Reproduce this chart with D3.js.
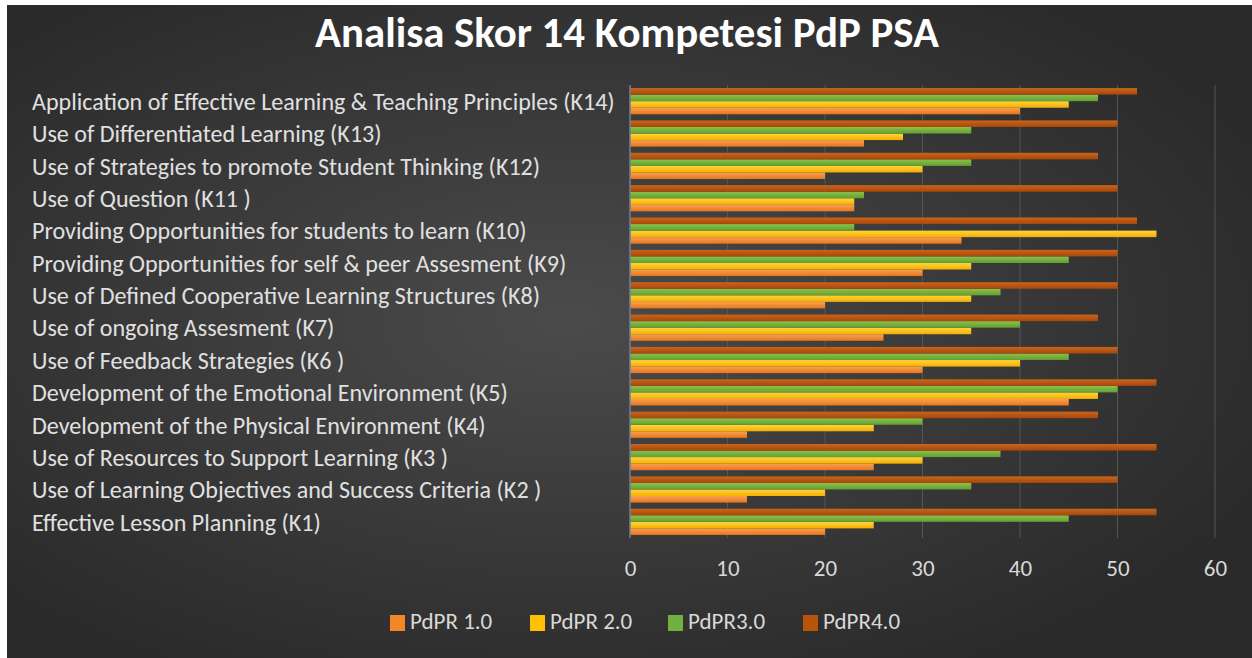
<!DOCTYPE html>
<html>
<head>
<meta charset="utf-8">
<script src="https://cdn.jsdelivr.net/npm/d3@7"></script>
<style>
  html, body { margin: 0; padding: 0; background: #ffffff; }
  svg { display: block; }
</style>
</head>
<body>
<svg id="chart" width="1252" height="658"></svg>
<script>
// Competency labels, top to bottom as drawn
const categories = [
  "Application of Effective Learning & Teaching Principles (K14)",
  "Use of Differentiated Learning (K13)",
  "Use of Strategies to promote Student Thinking (K12)",
  "Use of Question (K11 )",
  "Providing Opportunities for students to learn (K10)",
  "Providing Opportunities for self & peer Assesment (K9)",
  "Use of Defined Cooperative Learning Structures (K8)",
  "Use of ongoing Assesment (K7)",
  "Use of Feedback Strategies (K6 )",
  "Development of the Emotional Environment (K5)",
  "Development of the Physical Environment (K4)",
  "Use of Resources to Support Learning (K3 )",
  "Use of Learning Objectives and Success Criteria (K2 )",
  "Effective Lesson Planning (K1)"
];

// Scores per series, same order as categories (K14 ... K1)
const pdpr1 = [40, 24, 20, 23, 34, 30, 20, 26, 30, 45, 12, 25, 12, 20];
const pdpr2 = [45, 28, 30, 23, 54, 35, 35, 35, 40, 48, 25, 30, 20, 25];
const pdpr3 = [48, 35, 35, 24, 23, 45, 38, 40, 45, 50, 30, 38, 35, 45];
const pdpr4 = [52, 50, 48, 50, 52, 50, 50, 48, 50, 54, 48, 54, 50, 54];

const seriesNames = ["PdPR 1.0", "PdPR 2.0", "PdPR3.0", "PdPR4.0"];
const xTicks = [0, 10, 20, 30, 40, 50, 60];

const series = [
  { name: seriesNames[0], values: pdpr1, top: "#f9a052", bot: "#e8761c", sw: "#f4862a" },
  { name: seriesNames[1], values: pdpr2, top: "#ffd43a", bot: "#f5ae05", sw: "#ffc000" },
  { name: seriesNames[2], values: pdpr3, top: "#8cc04e", bot: "#63a02e", sw: "#72b043" },
  { name: seriesNames[3], values: pdpr4, top: "#c8651c", bot: "#a9470a", sw: "#b9540f" }
];

const svg = d3.select("#chart");
const W = 1252, H = 658;
const fontStack = "Carlito, 'Liberation Sans Narrow', 'Open Sans', 'DejaVu Sans Condensed', sans-serif";

const defs = svg.append("defs");
const bg = defs.append("radialGradient").attr("id", "bg")
  .attr("cx", "45%").attr("cy", "48%").attr("r", "62%");
bg.append("stop").attr("offset", "0%").attr("stop-color", "#4b4b4b");
bg.append("stop").attr("offset", "100%").attr("stop-color", "#2a2a2a");

series.forEach((s, i) => {
  const g = defs.append("linearGradient").attr("id", "g" + i)
    .attr("x1", 0).attr("y1", 0).attr("x2", 0).attr("y2", 1);
  g.append("stop").attr("offset", "0%").attr("stop-color", s.top);
  g.append("stop").attr("offset", "100%").attr("stop-color", s.bot);
});

// page background with a thin white margin on top and left
svg.append("rect").attr("x", 0).attr("y", 0).attr("width", W).attr("height", H).attr("fill", "#ffffff");
svg.append("rect").attr("x", 7).attr("y", 5).attr("width", W - 7).attr("height", H - 5).attr("fill", "url(#bg)");

const plot = { left: 630, right: 1215, top: 85, bottom: 538 };

const x = d3.scaleLinear().domain([0, 60]).range([plot.left, plot.right]);
const y = d3.scaleBand().domain(categories).range([plot.top, plot.bottom]).paddingInner(0.19).paddingOuter(0.095);
// series drawn from top: PdPR4.0, PdPR3.0, PdPR2.0, PdPR1.0
const ySub = d3.scaleBand().domain([3, 2, 1, 0]).range([0, y.bandwidth()]);

// vertical gridlines
svg.append("g")
  .selectAll("line")
  .data(xTicks.filter(t => t > 0))
  .join("line")
  .attr("x1", d => x(d)).attr("x2", d => x(d))
  .attr("y1", plot.top).attr("y2", plot.bottom)
  .attr("stroke", "#555555").attr("stroke-width", 1);

// bars
const rows = svg.append("g")
  .selectAll("g")
  .data(categories)
  .join("g")
  .attr("transform", d => `translate(0,${y(d)})`);

series.forEach((s, si) => {
  rows.append("rect")
    .attr("x", x(0))
    .attr("y", ySub(si))
    .attr("width", (d, i) => x(s.values[i]) - x(0))
    .attr("height", ySub.bandwidth())
    .attr("fill", `url(#g${si})`);
});

// value axis line
svg.append("line")
  .attr("x1", x(0)).attr("x2", x(0))
  .attr("y1", plot.top).attr("y2", plot.bottom)
  .attr("stroke", "#6f7ea0").attr("stroke-width", 1.5);

// x axis tick labels
const xAxis = d3.axisBottom(x).tickValues(xTicks).tickSize(0).tickPadding(0);
const xg = svg.append("g").attr("transform", `translate(0,${plot.bottom})`).call(xAxis);
xg.select(".domain").remove();
xg.selectAll("text")
  .attr("dy", 0).attr("y", 38)
  .attr("fill", "#d9d9d9")
  .style("font-family", fontStack)
  .style("font-size", "23px");

// category labels, left aligned
const labels = svg.append("g")
  .selectAll("text")
  .data(categories)
  .join("text")
  .attr("x", 32)
  .attr("y", d => y(d) + y.bandwidth() / 2 + 3)
  .attr("dominant-baseline", "middle")
  .attr("fill", "#e0e0e0")
  .style("font-family", fontStack)
  .style("font-size", "19px")
  .text(d => d);

// fit the longest label to its width
const longest = labels.nodes()[0].getComputedTextLength();
const fs = 19 * 583 / longest;
labels.style("font-size", fs + "px");

// title
const title = svg.append("text")
  .attr("x", 627).attr("y", 47)
  .attr("text-anchor", "middle")
  .attr("fill", "#ffffff")
  .style("font-family", fontStack)
  .style("font-weight", "bold")
  .style("font-size", "33px")
  .text("Analisa Skor 14 Kompetesi PdP PSA");
const tw = title.node().getComputedTextLength();
title.style("font-size", (33 * 624 / tw) + "px");

// legend
const legendX = [390, 530, 668, 803];
const legend = svg.append("g")
  .selectAll("g")
  .data(series)
  .join("g")
  .attr("transform", (d, i) => `translate(${legendX[i]},615)`);
legend.append("rect")
  .attr("width", 15).attr("height", 16)
  .attr("fill", d => d.sw);
legend.append("text")
  .attr("x", 20).attr("y", 9)
  .attr("dominant-baseline", "middle")
  .attr("fill", "#d9d9d9")
  .style("font-family", fontStack)
  .style("font-size", "23px")
  .text(d => d.name);
</script>
</body>
</html>
